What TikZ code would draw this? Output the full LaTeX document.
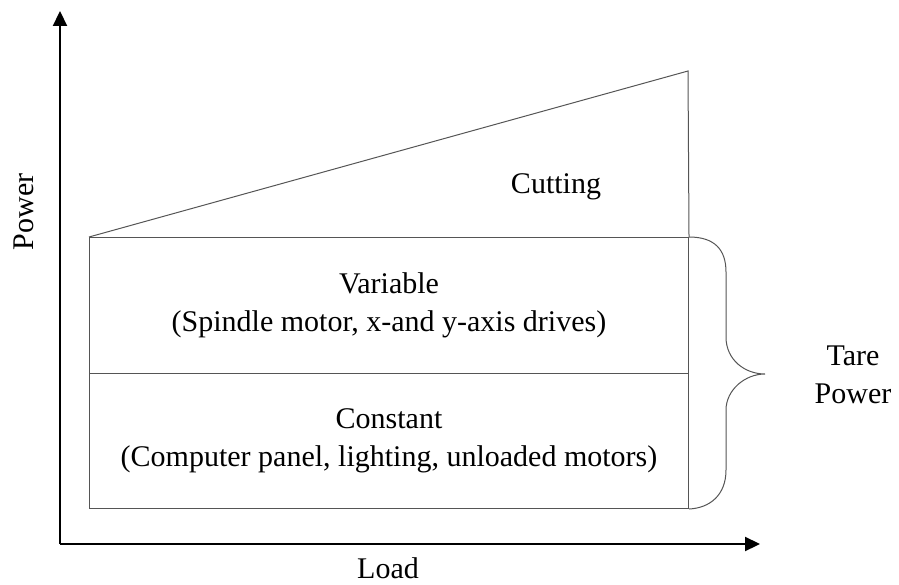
\documentclass[tikz,border=0pt]{standalone}
\usepackage{fontspec}
\setmainfont{Liberation Serif}
\usetikzlibrary{arrows.meta}
\definecolor{boxgray}{RGB}{85,85,85}
\tikzset{
  axis/.style={line width=2.2bp, -{Triangle[length=15bp,width=14bp]}},
  thin/.style={draw=boxgray, line width=1bp},
  boxnode/.style={thin, minimum width=599bp, minimum height=135.5bp, inner sep=0, align=center, font=\fontsize{30bp}{38bp}\selectfont},
  lbl/.style={inner sep=0, align=center, font=\fontsize{30bp}{38bp}\selectfont}
}
\begin{document}
\begin{tikzpicture}[x=1bp,y=-1bp]
\useasboundingbox (0,0) rectangle (899,585);
\coordinate (O) at (60,544);
\coordinate (ytip) at (60,11);
\coordinate (xtip) at (760,544);
\draw[axis] (O) -- (ytip);
\draw[axis] (O) -- (xtip);
\node[boxnode, anchor=north west] (var) at (89,237) {Variable\\(Spindle motor, x-and y-axis drives)};
\node[boxnode, anchor=north west] (con) at (89,372.5) {Constant\\(Computer panel, lighting, unloaded motors)};
\coordinate (top) at (688,71);
\draw[thin] (var.north west) -- (top) -- (var.north east);
\node[lbl, anchor=base] (cut) at (556,194) {Cutting};
\draw[thin] (var.north east) .. controls (715,237) and (726,250) .. (726,272)
  -- (726,337) .. controls (726,360) and (745,374) .. (765,374) coordinate (tip)
  .. controls (745,374) and (726,390) .. (726,410)
  -- (726,470) .. controls (726,495) and (710,508) .. (con.south east);
\node[lbl, anchor=base] (tare) at (853,403) {Tare\\Power};
\node[lbl, anchor=base] (load) at (388,578) {Load};
\node[lbl, anchor=base, rotate=90] (power) at (33,212) {Power};
\end{tikzpicture}
\end{document}
